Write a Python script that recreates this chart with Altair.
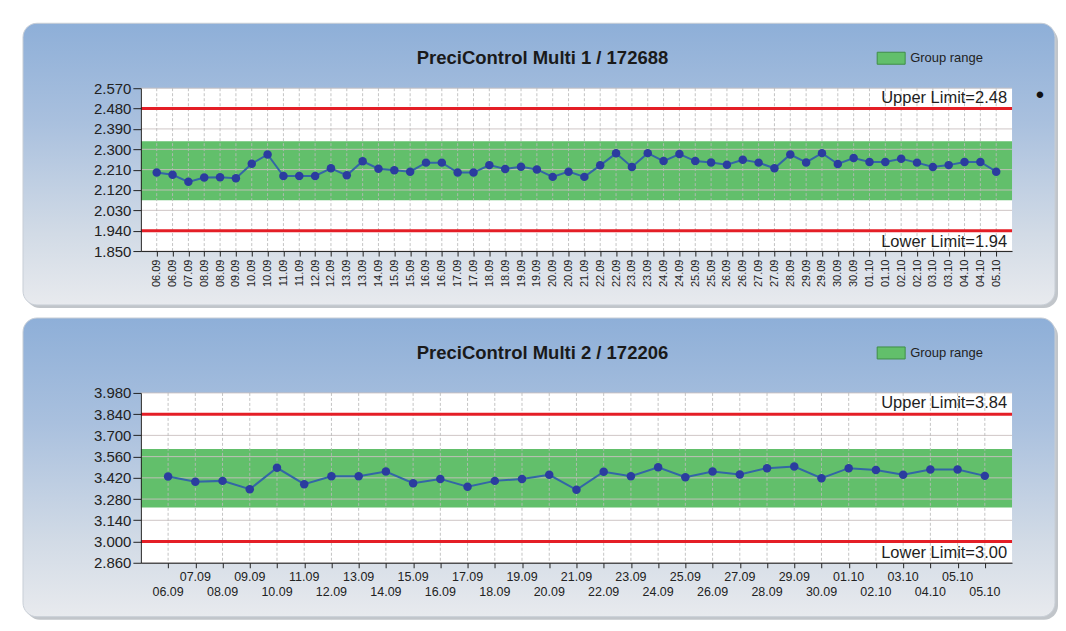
import altair as alt
import pandas as pd

# ---------------- data ----------------
title1 = "PreciControl Multi 1 / 172688"
labels1 = ["06.09", "06.09", "07.09", "08.09", "08.09", "09.09", "10.09", "10.09", "11.09", "11.09",
           "12.09", "12.09", "13.09", "13.09", "14.09", "15.09", "15.09", "16.09", "16.09", "17.09",
           "17.09", "18.09", "18.09", "19.09", "19.09", "20.09", "20.09", "21.09", "22.09", "22.09",
           "23.09", "23.09", "24.09", "24.09", "25.09", "25.09", "26.09", "26.09", "27.09", "27.09",
           "28.09", "29.09", "29.09", "30.09", "30.09", "01.10", "01.10", "02.10", "02.10", "03.10",
           "03.10", "04.10", "04.10", "05.10"]
values1 = [2.197, 2.187, 2.156, 2.175, 2.176, 2.172, 2.236, 2.277, 2.182, 2.182,
           2.182, 2.216, 2.185, 2.247, 2.214, 2.207, 2.201, 2.241, 2.241, 2.197,
           2.197, 2.230, 2.213, 2.223, 2.211, 2.178, 2.201, 2.178, 2.229, 2.282,
           2.222, 2.283, 2.248, 2.279, 2.248, 2.242, 2.232, 2.254, 2.241, 2.216,
           2.277, 2.242, 2.283, 2.235, 2.261, 2.244, 2.244, 2.258, 2.241, 2.222,
           2.230, 2.244, 2.244, 2.201]
upper1, lower1 = 2.48, 1.94
band1 = [2.075, 2.335]
yticks1 = [1.85, 1.94, 2.03, 2.12, 2.21, 2.30, 2.39, 2.48, 2.57]

title2 = "PreciControl Multi 2 / 172206"
labels2 = ["06.09", "07.09", "08.09", "09.09", "10.09", "11.09", "12.09", "13.09", "14.09", "15.09",
           "16.09", "17.09", "18.09", "19.09", "20.09", "21.09", "22.09", "23.09", "24.09", "25.09",
           "26.09", "27.09", "28.09", "29.09", "30.09", "01.10", "02.10", "03.10", "04.10", "05.10",
           "05.10"]
values2 = [3.429, 3.394, 3.400, 3.345, 3.486, 3.378, 3.431, 3.431, 3.462, 3.385,
           3.413, 3.361, 3.400, 3.413, 3.440, 3.341, 3.460, 3.431, 3.490, 3.424,
           3.462, 3.442, 3.484, 3.495, 3.418, 3.484, 3.471, 3.440, 3.475, 3.475,
           3.433]
upper2, lower2 = 3.84, 3.00
band2 = [3.225, 3.610]
yticks2 = [2.86, 3.00, 3.14, 3.28, 3.42, 3.56, 3.70, 3.84, 3.98]

legend_label = "Group range"

FONT = "Liberation Sans"
GREEN = "#62bf6b"
RED = "#e41e26"
LINE = "#3366a6"
DOT = "#2b3c9f"


def panel(title, labels, values, upper, lower, band, yticks, W, H, panel_top, staggered):
    n = len(labels)
    df = pd.DataFrame({"idx": list(range(1, n + 1)), "label": labels, "value": values})
    one = pd.DataFrame({"k": [0]})
    xs = alt.Scale(domain=[0, n + 1], nice=False, zero=False)
    ys = alt.Scale(domain=[yticks[0], yticks[-1]], nice=False, zero=False)

    arr = "[" + ",".join("'%s'" % l for l in labels) + "]"
    if staggered:
        xaxis = alt.Axis(values=list(range(1, n + 1)), labels=False, ticks=True, tickSize=5,
                         tickColor="#222", domainColor="#222", grid=False, title=None, zindex=2)
    else:
        xaxis = alt.Axis(values=list(range(1, n + 1)), labelExpr=arr + "[datum.value-1]",
                         labelAngle=270, labelFontSize=11, labelFont=FONT, labelColor="#222",
                         tickSize=5, tickColor="#222", domainColor="#222", labelPadding=3,
                         grid=False, title=None, labelOverlap=False, zindex=2)
    yaxis = alt.Axis(values=yticks, format=".3f", labelFontSize=15, labelFont=FONT,
                     labelColor="#222", tickSize=8, tickColor="#222", domainColor="#222",
                     labelPadding=2, grid=False, title=None, labelOverlap=False, zindex=2)

    def X(f):
        return alt.X(f, scale=xs, axis=xaxis, title=None)

    def Y(f):
        return alt.Y(f, scale=ys, axis=yaxis, title=None)

    base1 = alt.Chart(one)
    shadow = base1.mark_rect(cornerRadius=14, color="#8e969f", opacity=0.55).encode(
        x=alt.value(-115), x2=alt.value(W + 46), y=alt.value(panel_top + 4), y2=alt.value(H + 57))
    bg = base1.mark_rect(
        cornerRadius=14,
        fill=alt.LinearGradient(gradient="linear", x1=0, x2=0, y1=0, y2=1, stops=[
            alt.GradientStop(color="#8eafd8", offset=0),
            alt.GradientStop(color="#a9c0de", offset=0.35),
            alt.GradientStop(color="#d2dbe6", offset=0.75),
            alt.GradientStop(color="#e8eaee", offset=1)]),
        stroke="#c8ced6", strokeWidth=1).encode(
        x=alt.value(-118), x2=alt.value(W + 43), y=alt.value(panel_top), y2=alt.value(H + 54))
    plotbg = base1.mark_rect(color="white").encode(
        x=alt.value(0), x2=alt.value(W), y=alt.value(0), y2=alt.value(H))

    bdf = pd.DataFrame({"lo": [band[0]], "hi": [band[1]]})
    bandm = alt.Chart(bdf).mark_rect(color=GREEN).encode(
        x=alt.value(0), x2=alt.value(W), y=Y("lo:Q"), y2="hi:Q")

    hgrid = alt.Chart(pd.DataFrame({"t": yticks})).mark_rule(color="#c9c0c0", strokeWidth=1, opacity=0.9).encode(
        x=alt.value(0), x2=alt.value(W), y=Y("t:Q"))
    vgrid = alt.Chart(df).mark_rule(color="#b9b9b9", strokeWidth=1, strokeDash=[3, 2], opacity=0.85).encode(
        x=X("idx:Q"), y=alt.value(0), y2=alt.value(H))

    ldf = pd.DataFrame({"v": [upper, lower]})
    limits = alt.Chart(ldf).mark_rule(color=RED, strokeWidth=3).encode(
        x=alt.value(0), x2=alt.value(W), y=Y("v:Q"))

    ut = alt.Chart(pd.DataFrame({"v": [upper], "t": ["Upper Limit=%.2f" % upper]})).mark_text(
        align="right", baseline="bottom", dy=-3, fontSize=16.5, font=FONT, color="#1e1e1e").encode(
        x=alt.value(W - 5), y=Y("v:Q"), text="t:N")
    lt = alt.Chart(pd.DataFrame({"v": [lower], "t": ["Lower Limit=%.2f" % lower]})).mark_text(
        align="right", baseline="top", dy=3, fontSize=16.5, font=FONT, color="#1e1e1e").encode(
        x=alt.value(W - 5), y=Y("v:Q"), text="t:N")

    line = alt.Chart(df).mark_line(color=LINE, strokeWidth=2).encode(
        x=X("idx:Q"), y=Y("value:Q"))
    pts = alt.Chart(df).mark_circle(color=DOT, size=72, opacity=1).encode(
        x=X("idx:Q"), y=Y("value:Q"))

    tmark = base1.mark_text(text=title, fontSize=18.5, fontWeight="bold", font=FONT,
                            color="#1a1a1a", align="center", baseline="middle").encode(
        x=alt.value(402), y=alt.value(panel_top + 35))
    sw = base1.mark_rect(fill=GREEN, stroke="#3f8f46", strokeWidth=1).encode(
        x=alt.value(737), x2=alt.value(765), y=alt.value(panel_top + 29), y2=alt.value(panel_top + 41))
    swt = base1.mark_text(text=legend_label, fontSize=13, font=FONT, color="#222",
                          align="left", baseline="middle").encode(
        x=alt.value(770), y=alt.value(panel_top + 35))

    layers = [shadow, bg, plotbg, bandm, hgrid, vgrid, limits, ut, lt, line, pts, tmark, sw, swt]

    if staggered:
        lab_b = alt.Chart(df).transform_filter("datum.idx % 2 == 1").mark_text(
            fontSize=12.5, font=FONT, color="#222", baseline="middle").encode(
            x=X("idx:Q"), y=alt.value(H + 29), text="label:N")
        lab_t = alt.Chart(df).transform_filter("datum.idx % 2 == 0").mark_text(
            fontSize=12.5, font=FONT, color="#222", baseline="middle").encode(
            x=X("idx:Q"), y=alt.value(H + 14), text="label:N")
        layers += [lab_b, lab_t]
    else:
        bullet = base1.mark_text(text="\u2022", fontSize=24, color="#111").encode(
            x=alt.value(W + 28), y=alt.value(8))
        layers += [bullet]

    return alt.layer(*layers).properties(width=W, height=H)


top = panel(title1, labels1, values1, upper1, lower1, band1, yticks1, 872, 163, -65, False)
bottom = panel(title2, labels2, values2, upper2, lower2, band2, yticks2, 872, 170, -75, True)

chart = alt.vconcat(top, bottom, spacing=9).properties(
    padding={"left": 14, "top": 14, "right": 0, "bottom": 0},
    background="white",
).configure_view(stroke=None)

chart.save("out.html", embed_options={"renderer": "svg", "actions": False})
